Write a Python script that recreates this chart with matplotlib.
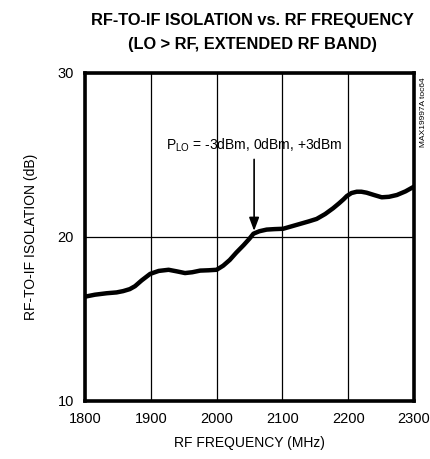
import matplotlib
matplotlib.use("Agg")
import matplotlib.pyplot as plt

# data
freq_mhz = [1800, 1815, 1833, 1848, 1858, 1868, 1876, 1886, 1899, 1912, 1927,
            1940, 1952, 1963, 1975, 1988, 2000, 2010, 2020, 2030, 2041, 2050,
            2056, 2065, 2076, 2088, 2101, 2114, 2127, 2140, 2152, 2165, 2177,
            2186, 2193, 2198, 2205, 2213, 2220, 2228, 2240, 2251, 2262, 2274,
            2287, 2300]
isolation_db = [16.36, 16.48, 16.57, 16.62, 16.7, 16.82, 17.0, 17.35, 17.75,
                17.93, 18.0, 17.9, 17.8, 17.85, 17.95, 17.97, 18.0, 18.25,
                18.6, 19.05, 19.5, 19.9, 20.2, 20.35, 20.45, 20.48, 20.5,
                20.65, 20.8, 20.95, 21.1, 21.4, 21.75, 22.05, 22.3, 22.5,
                22.68, 22.76, 22.76, 22.7, 22.55, 22.42, 22.45, 22.56, 22.78,
                23.07]
x_ticks = [1800, 1900, 2000, 2100, 2200, 2300]
y_ticks = [10, 20, 30]

plt.rcParams["font.family"] = ["Liberation Sans", "DejaVu Sans"]
plt.rcParams["mathtext.fontset"] = "custom"
plt.rcParams["mathtext.rm"] = "Liberation Sans"

fig = plt.figure(figsize=(4.3, 4.59), dpi=100)
ax = fig.add_axes([0.1977, 0.1264, 0.7651, 0.7146])

ax.plot(freq_mhz, isolation_db, color="black", lw=3.2,
        solid_capstyle="butt", solid_joinstyle="round")

ax.set_xlim(1800, 2300)
ax.set_ylim(10, 30)
ax.set_xticks(x_ticks)
ax.set_yticks(y_ticks)
ax.tick_params(length=0, labelsize=10.5, pad=8)
ax.grid(True, color="black", lw=0.9)
for s in ax.spines.values():
    s.set_linewidth(2.6)

ax.set_xlabel("RF FREQUENCY (MHz)", fontsize=10, labelpad=7)
ax.set_ylabel("RF-TO-IF ISOLATION (dB)", fontsize=10, labelpad=14)

fig.text(0.588, 0.955, "RF-TO-IF ISOLATION vs. RF FREQUENCY",
         ha="center", va="center", fontsize=11.8, fontweight="bold")
fig.text(0.588, 0.903, "(LO > RF, EXTENDED RF BAND)",
         ha="center", va="center", fontsize=11.8, fontweight="bold")

ax.annotate("", xy=(2057, 20.2), xytext=(2057, 24.9),
            arrowprops=dict(arrowstyle="-|>,head_length=0.8,head_width=0.3",
                            color="black", lw=1.2))
ax.text(2057, 25.6, r"P$_\mathrm{LO}$ = -3dBm, 0dBm, +3dBm",
        ha="center", va="center", fontsize=10)

fig.text(0.984, 0.755, "MAX19997A toc64", rotation=90, ha="center",
         va="center", fontsize=6)

fig.savefig("out.png", dpi=100)
